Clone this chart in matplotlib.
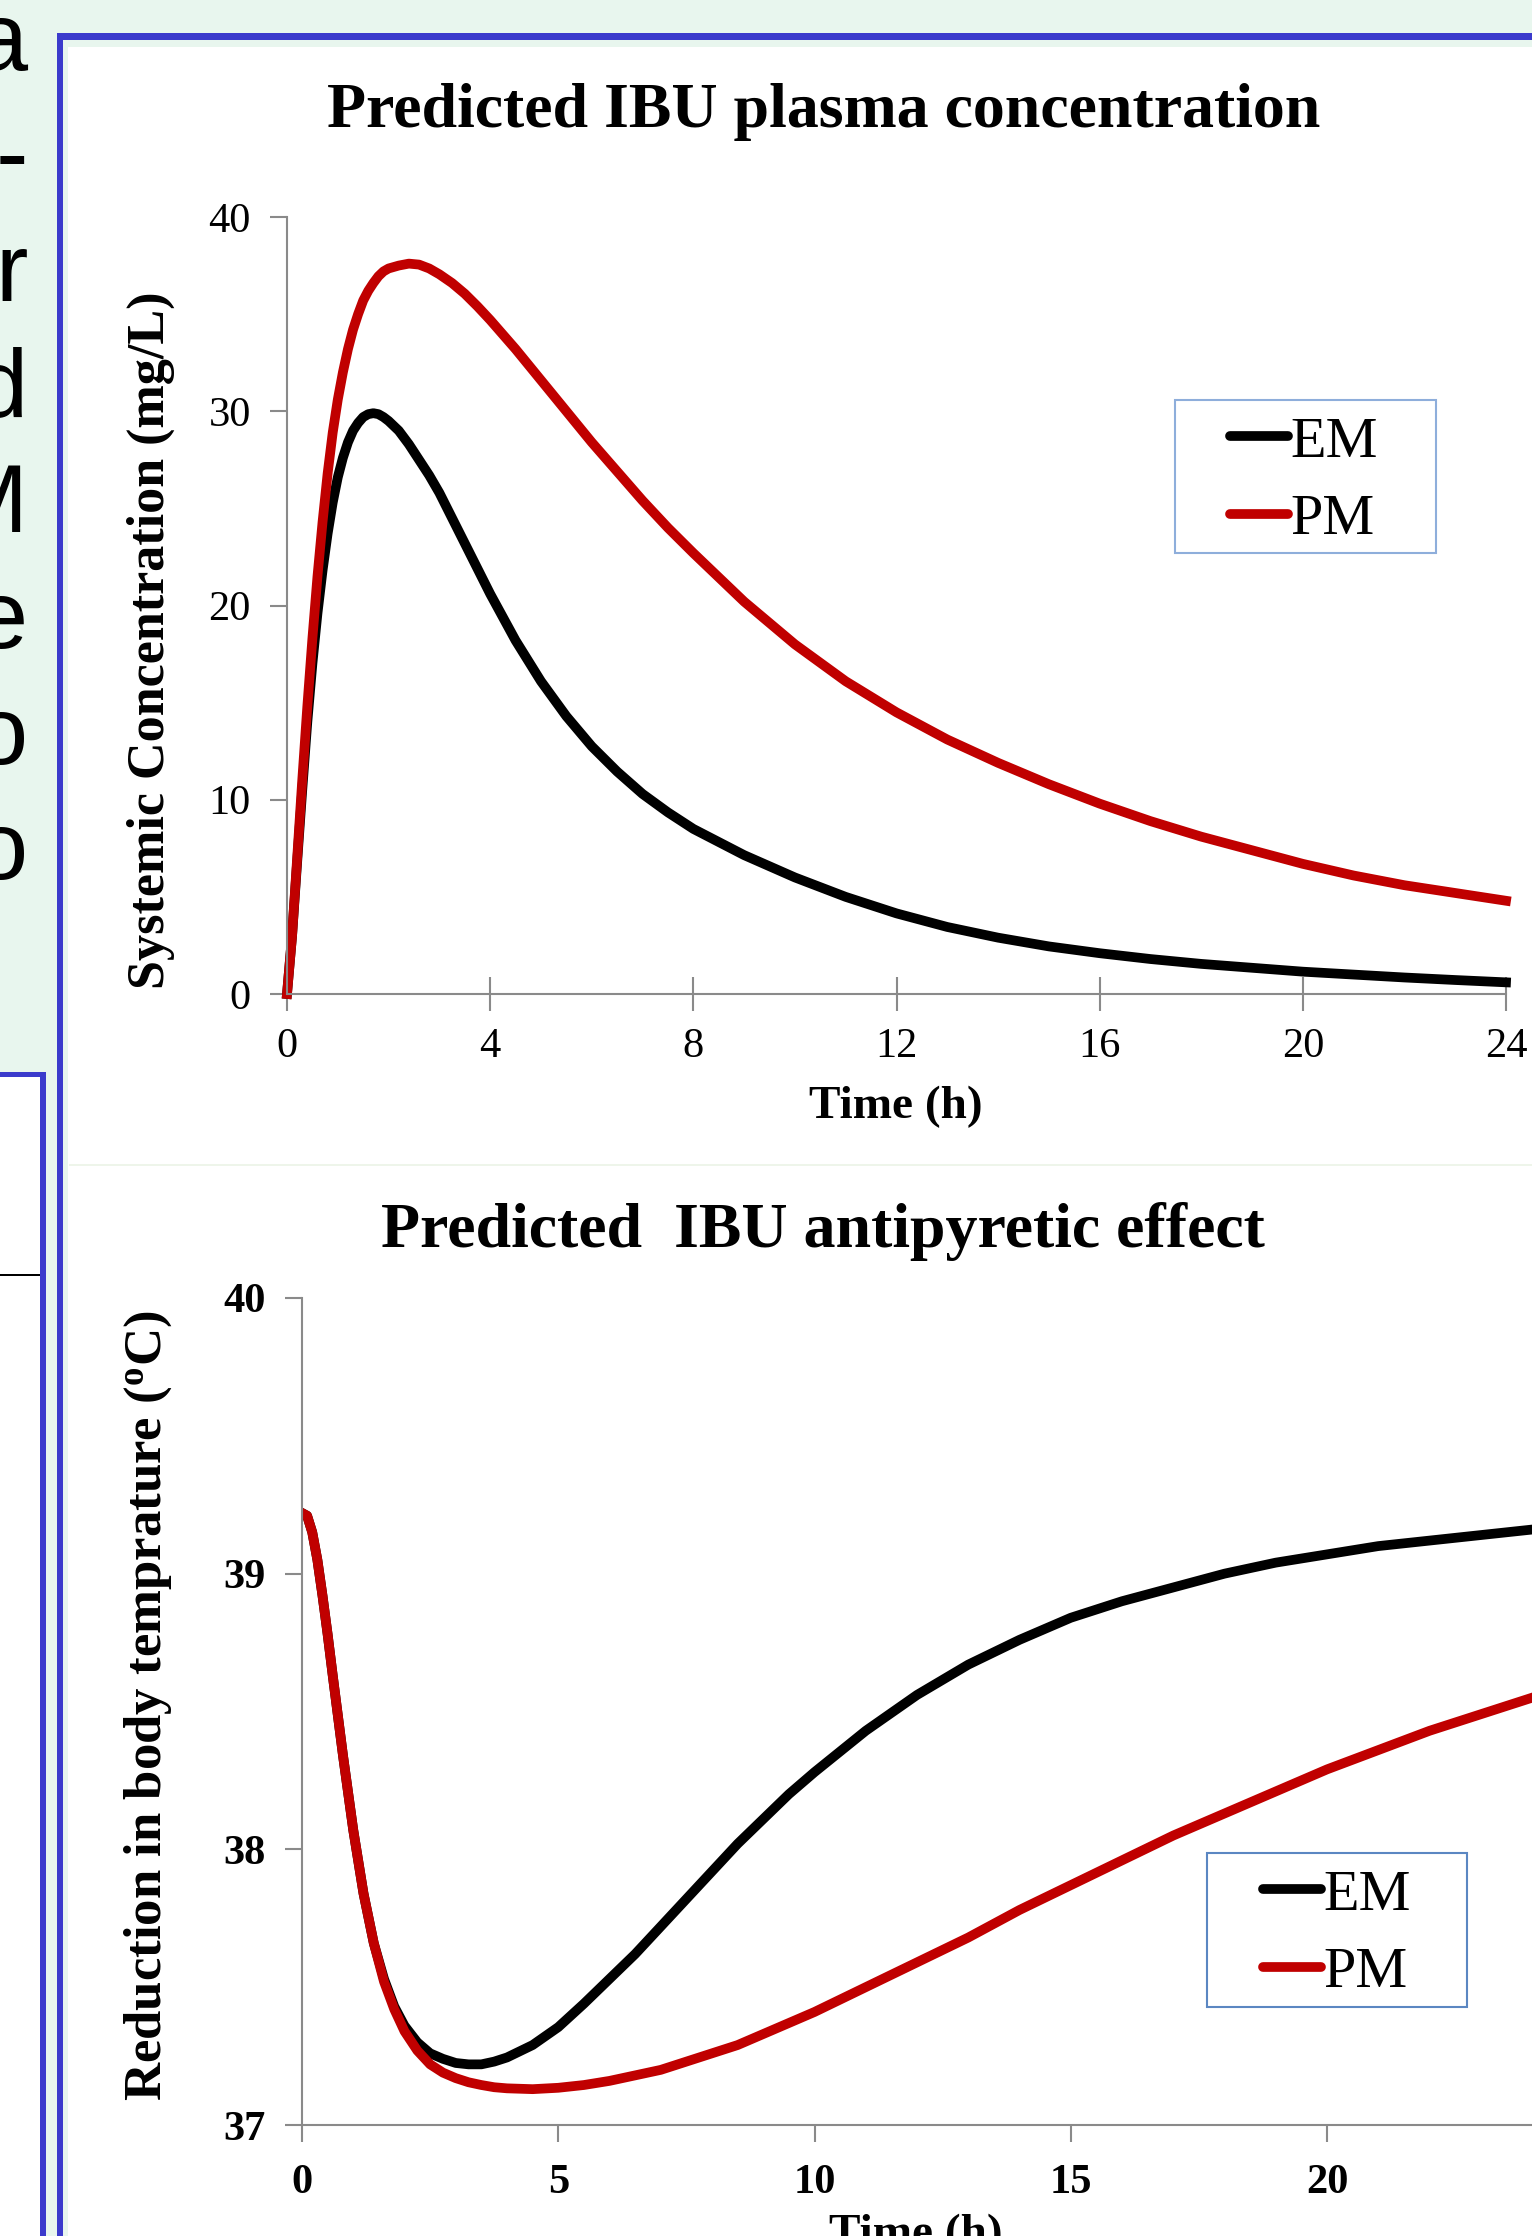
import matplotlib
matplotlib.use("Agg")
import matplotlib.pyplot as plt
from matplotlib.patches import Rectangle

# ---- data ----
time_pk = [0, 0.1, 0.2, 0.3, 0.4, 0.5, 0.6, 0.7, 0.8, 0.9, 1.0, 1.1, 1.2, 1.3, 1.4, 1.5, 1.6,
           1.7, 1.8, 1.9, 2.0, 2.2, 2.4, 2.6, 2.8, 3.0, 3.25, 3.5, 3.75, 4.0, 4.5, 5.0, 5.5,
           6.0, 6.5, 7.0, 7.5, 8.0, 9, 10, 11, 12, 13, 14, 15, 16, 17, 18, 19, 20, 21, 22, 23, 24]
conc_em = [0, 3.0, 6.8, 10.5, 14.0, 17.0, 19.6, 21.8, 23.7, 25.3, 26.6, 27.6, 28.4, 29.0, 29.4,
           29.7, 29.85, 29.9, 29.85, 29.7, 29.5, 29.0, 28.3, 27.5, 26.7, 25.8, 24.5, 23.2, 21.9,
           20.6, 18.2, 16.1, 14.3, 12.75, 11.45, 10.3, 9.35, 8.5, 7.15, 6.0, 5.0, 4.15, 3.45,
           2.9, 2.45, 2.1, 1.8, 1.55, 1.35, 1.15, 1.0, 0.85, 0.72, 0.6]
conc_pm = [0, 3.0, 7.0, 11.0, 14.8, 18.3, 21.5, 24.3, 26.8, 28.9, 30.6, 32.0, 33.2, 34.2, 35.0,
           35.7, 36.2, 36.6, 36.95, 37.2, 37.35, 37.5, 37.6, 37.55, 37.35, 37.05, 36.6, 36.05, 35.4,
           34.7, 33.2, 31.6, 30.0, 28.4, 26.9, 25.4, 24.0, 22.7, 20.2, 18.0, 16.1, 14.5, 13.1, 11.9,
           10.8, 9.8, 8.9, 8.1, 7.4, 6.7, 6.1, 5.6, 5.2, 4.8]

time_pd = [0, 0.1, 0.2, 0.3, 0.4, 0.5, 0.6, 0.8, 1.0, 1.2, 1.4, 1.6, 1.8, 2.0, 2.25, 2.5, 2.75,
           3.0, 3.25, 3.5, 3.75, 4.0, 4.5, 5.0, 5.5, 6.0, 6.5, 7.0, 7.5, 8.0, 8.5, 9.0, 9.5, 10,
           11, 12, 13, 14, 15, 16, 17, 18, 19, 20, 21, 22, 23, 24]
temp_em = [39.22, 39.21, 39.15, 39.05, 38.92, 38.78, 38.63, 38.34, 38.07, 37.84, 37.66, 37.53,
           37.43, 37.36, 37.3, 37.26, 37.24, 37.225, 37.22, 37.22, 37.23, 37.245, 37.29, 37.355,
           37.44, 37.53, 37.62, 37.72, 37.82, 37.92, 38.02, 38.11, 38.2, 38.28, 38.43, 38.56,
           38.67, 38.76, 38.84, 38.9, 38.95, 39.0, 39.04, 39.07, 39.1, 39.12, 39.14, 39.16]
temp_pm = [39.22, 39.21, 39.15, 39.05, 38.92, 38.78, 38.63, 38.34, 38.07, 37.84, 37.66, 37.52,
           37.42, 37.34, 37.27, 37.22, 37.19, 37.17, 37.155, 37.145, 37.137, 37.133, 37.13,
           37.135, 37.145, 37.16, 37.18, 37.2, 37.23, 37.26, 37.29, 37.33, 37.37, 37.41, 37.5,
           37.59, 37.68, 37.78, 37.87, 37.96, 38.05, 38.13, 38.21, 38.29, 38.36, 38.43, 38.49,
           38.55]

labels = ["EM", "PM"]
colors = ["black", "#c00000"]
pk_xticks = [0, 4, 8, 12, 16, 20, 24]
pk_yticks = [0, 10, 20, 30, 40]
pd_xticks = [0, 5, 10, 15, 20]
pd_yticks = [37, 38, 39, 40]
slide_chars = ["a", "-", "r", "d", "M", "e", "o", "o"]

W, H = 1532, 2236
SERIF = "Liberation Serif"
GREEN = "#e8f6ee"
BLUE = "#3b3bcc"
AXIS = "#8a8a8a"


def fx(x):
    return x / W


def fy(y):
    return 1 - y / H


def rect(fig, x0, y0, x1, y1, color, z=0):
    # pixel box (top-left origin) drawn in figure coords
    fig.add_artist(Rectangle((fx(x0), fy(y1)), fx(x1) - fx(x0), fy(y0) - fy(y1),
                             transform=fig.transFigure, facecolor=color,
                             edgecolor="none", zorder=z))


def frame(fig, x0, y0, x1, y1, color):
    fig.add_artist(Rectangle((fx(x0), fy(y1)), fx(x1) - fx(x0), fy(y0) - fy(y1),
                             transform=fig.transFigure, facecolor="none",
                             edgecolor=color, lw=1.5, zorder=5))


fig = plt.figure(figsize=(W / 100, H / 100), dpi=100, facecolor=GREEN)

# slide background pieces
rect(fig, 68, 47, W, H, "white")
rect(fig, 57, 33, W, 40, BLUE, 1)
rect(fig, 57, 33, 63, H, BLUE, 1)
rect(fig, 0, 1077, 40, H, "white")
rect(fig, 0, 1072, 46, 1077, BLUE, 1)
rect(fig, 40, 1072, 46, H, BLUE, 1)
rect(fig, 0, 1274, 40, 1276, "black", 1)
rect(fig, 69, 1164, W, 1166, "#eef5ea", 1)

for i, ch in enumerate(slide_chars):
    fig.text(fx(28), fy(70 + 115.6 * i), ch, ha="right", va="baseline",
             fontsize=70, family="Liberation Sans", color="black")


def style_axes(ax, bold):
    ax.patch.set_visible(False)
    for s in ["top", "right"]:
        ax.spines[s].set_visible(False)
    for s in ["left", "bottom"]:
        ax.spines[s].set_color(AXIS)
        ax.spines[s].set_linewidth(1.5)
    w = "bold" if bold else "normal"
    for lab in ax.get_xticklabels() + ax.get_yticklabels():
        lab.set_fontfamily(SERIF)
        lab.set_fontweight(w)
        lab.set_fontsize(30.5)


def add_legend(ax, x, y):
    leg = ax.legend(loc="center left", bbox_to_anchor=(fx(x), fy(y)),
                    bbox_transform=fig.transFigure, frameon=False, borderpad=0,
                    borderaxespad=0, handlelength=1.0, handletextpad=0.03,
                    labelspacing=0.42, prop={"family": SERIF, "size": 42})
    for h in leg.get_lines():
        h.set_solid_capstyle("round")
    return leg


# ---- top: plasma concentration ----
ax1 = fig.add_axes([fx(287), fy(994), fx(1506) - fx(287), fy(217) - fy(994)])
ax1.plot(time_pk, conc_em, color=colors[0], lw=7, label=labels[0], clip_on=False)
ax1.plot(time_pk, conc_pm, color=colors[1], lw=7, label=labels[1], clip_on=False)
ax1.set_xlim(0, 24)
ax1.set_ylim(0, 40)
ax1.set_xticks(pk_xticks)
ax1.set_yticks(pk_yticks)
style_axes(ax1, False)
ax1.tick_params(axis="x", direction="inout", length=24, width=1.5, color=AXIS, pad=12)
ax1.tick_params(axis="y", direction="out", length=12, width=1.5, color=AXIS, pad=14)

fig.text(fx(824), fy(127), "Predicted IBU plasma concentration", ha="center", va="baseline",
         fontsize=46, fontweight="bold", family=SERIF)
fig.text(fx(896), fy(1118), "Time (h)", ha="center", va="baseline",
         fontsize=34, fontweight="bold", family=SERIF)
fig.text(fx(151), fy(640), "Systemic Concentration (mg/L)", ha="center", va="center",
         rotation=90, fontsize=37.5, fontweight="bold", family=SERIF)

add_legend(ax1, 1230, 481)
frame(fig, 1175, 400, 1436, 553, "#8eaedb")

# ---- bottom: antipyretic effect ----
ax2 = fig.add_axes([fx(302), fy(2125), fx(1532) - fx(302), fy(1298) - fy(2125)])
ax2.plot(time_pd, temp_em, color=colors[0], lw=7, label=labels[0])
ax2.plot(time_pd, temp_pm, color=colors[1], lw=7, label=labels[1])
ax2.set_xlim(0, 24)
ax2.set_ylim(37, 40)
ax2.set_xticks(pd_xticks)
ax2.set_yticks(pd_yticks)
style_axes(ax2, True)
ax2.tick_params(axis="x", direction="out", length=12, width=1.5, color=AXIS, pad=16)
ax2.tick_params(axis="y", direction="out", length=12, width=1.5, color=AXIS, pad=14)

fig.text(fx(823), fy(1247), "Predicted  IBU antipyretic effect", ha="center", va="baseline",
         fontsize=46, fontweight="bold", family=SERIF)
fig.text(fx(916), fy(2246), "Time (h)", ha="center", va="baseline",
         fontsize=34, fontweight="bold", family=SERIF)
plt.rcParams["mathtext.fontset"] = "custom"
plt.rcParams["mathtext.rm"] = SERIF + ":bold"
plt.rcParams["mathtext.bf"] = SERIF + ":bold"
fig.text(fx(148), fy(1706), r"Reduction in body temprature ($\mathbf{^{o}}$C)", ha="center",
         va="center", rotation=90, fontsize=38, fontweight="bold", family=SERIF)

add_legend(ax2, 1263, 1934)
frame(fig, 1207, 1853, 1467, 2007, "#5b87c2")

fig.savefig("out.png", dpi=100, facecolor=GREEN)
